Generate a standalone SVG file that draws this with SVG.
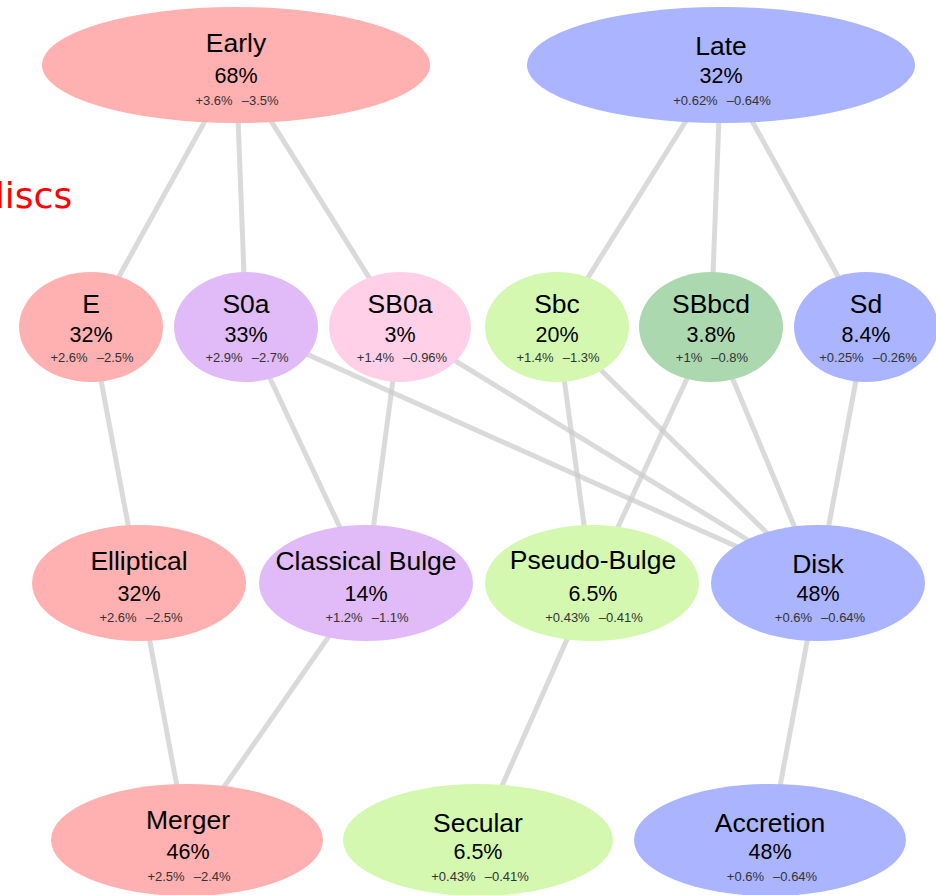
<svg xmlns="http://www.w3.org/2000/svg" width="936" height="895" viewBox="0 0 936 895">
  <style>
    .edge { stroke: #cacaca; stroke-opacity: 0.7; stroke-width: 5; fill: none; }
    .name { font-family: "Liberation Sans", Arial, Helvetica, sans-serif; font-size: 26.5px; fill: #000; text-anchor: middle; }
    .pct { font-family: "Liberation Sans", Arial, Helvetica, sans-serif; font-size: 21.5px; fill: #000; text-anchor: middle; }
    .err { font-family: "Liberation Sans", Arial, Helvetica, sans-serif; font-size: 13px; fill: #333; text-anchor: middle; }
    .red { fill: #ffb0b0; }
    .blue { fill: #aab4ff; }
    .lilac { fill: #e0bbf8; }
    .pink { fill: #ffd0e8; }
    .lime { fill: #d4f8b0; }
    .green { fill: #acd8b0; }
  </style>
  <rect width="936" height="895" fill="#fff"/>

  <!-- side caption, partly outside the frame -->
  <text x="-18" y="208" font-family="'DejaVu Sans', 'Open Sans', sans-serif" font-size="36" fill="#ff0000">discs</text>

  <!-- connectors, centre to centre, beneath the nodes -->
  <g id="edges">
    <line class="edge" x1="236" y1="65" x2="91" y2="327"/>
    <line class="edge" x1="236" y1="65" x2="246" y2="327"/>
    <line class="edge" x1="236" y1="65" x2="400" y2="327"/>
    <line class="edge" x1="721" y1="65" x2="557" y2="327"/>
    <line class="edge" x1="721" y1="65" x2="711" y2="327"/>
    <line class="edge" x1="721" y1="65" x2="866" y2="327"/>
    <line class="edge" x1="91" y1="327" x2="139" y2="583"/>
    <line class="edge" x1="246" y1="327" x2="366" y2="583"/>
    <line class="edge" x1="400" y1="327" x2="366" y2="583"/>
    <line class="edge" x1="246" y1="327" x2="818" y2="583"/>
    <line class="edge" x1="400" y1="327" x2="818" y2="583"/>
    <line class="edge" x1="557" y1="327" x2="592" y2="583"/>
    <line class="edge" x1="557" y1="327" x2="818" y2="583"/>
    <line class="edge" x1="711" y1="327" x2="592" y2="583"/>
    <line class="edge" x1="711" y1="327" x2="818" y2="583"/>
    <line class="edge" x1="866" y1="327" x2="818" y2="583"/>
    <line class="edge" x1="139" y1="583" x2="187" y2="840"/>
    <line class="edge" x1="366" y1="583" x2="187" y2="840"/>
    <line class="edge" x1="592" y1="583" x2="478" y2="840"/>
    <line class="edge" x1="818" y1="583" x2="770" y2="840"/>
  </g>

  <!-- top row -->
  <g id="early">
    <ellipse class="red" cx="236" cy="65" rx="194" ry="58"/>
    <text class="name" x="236" y="52">Early</text>
    <text class="pct" x="236" y="83">68%</text>
    <text class="err" x="237" y="104.5">+3.6%<tspan dx="9">–3.5%</tspan></text>
  </g>
  <g id="late">
    <ellipse class="blue" cx="721" cy="65" rx="194" ry="58"/>
    <text class="name" x="721" y="55">Late</text>
    <text class="pct" x="721" y="83">32%</text>
    <text class="err" x="722" y="104.5">+0.62%<tspan dx="9">–0.64%</tspan></text>
  </g>

  <!-- morphology row -->
  <g id="E">
    <ellipse class="red" cx="91" cy="327" rx="72" ry="55"/>
    <text class="name" x="91" y="313">E</text>
    <text class="pct" x="91" y="342">32%</text>
    <text class="err" x="92" y="362">+2.6%<tspan dx="9">–2.5%</tspan></text>
  </g>
  <g id="S0a">
    <ellipse class="lilac" cx="246" cy="327" rx="72" ry="55"/>
    <text class="name" x="246" y="313">S0a</text>
    <text class="pct" x="246" y="342">33%</text>
    <text class="err" x="247" y="362">+2.9%<tspan dx="9">–2.7%</tspan></text>
  </g>
  <g id="SB0a">
    <ellipse class="pink" cx="400" cy="327" rx="71" ry="55"/>
    <text class="name" x="400" y="313">SB0a</text>
    <text class="pct" x="400" y="342">3%</text>
    <text class="err" x="402" y="362">+1.4%<tspan dx="9">–0.96%</tspan></text>
  </g>
  <g id="Sbc">
    <ellipse class="lime" cx="557" cy="327" rx="72" ry="55"/>
    <text class="name" x="557" y="313">Sbc</text>
    <text class="pct" x="557" y="342">20%</text>
    <text class="err" x="558" y="362">+1.4%<tspan dx="9">–1.3%</tspan></text>
  </g>
  <g id="SBbcd">
    <ellipse class="green" cx="711" cy="327" rx="72" ry="55"/>
    <text class="name" x="711" y="313">SBbcd</text>
    <text class="pct" x="711" y="342">3.8%</text>
    <text class="err" x="712" y="362">+1%<tspan dx="9">–0.8%</tspan></text>
  </g>
  <g id="Sd">
    <ellipse class="blue" cx="866" cy="327" rx="72" ry="55"/>
    <text class="name" x="866" y="313">Sd</text>
    <text class="pct" x="866" y="342">8.4%</text>
    <text class="err" x="868" y="362">+0.25%<tspan dx="9">–0.26%</tspan></text>
  </g>

  <!-- component row -->
  <g id="Elliptical">
    <ellipse class="red" cx="139" cy="583" rx="107" ry="58"/>
    <text class="name" x="139" y="570">Elliptical</text>
    <text class="pct" x="139" y="601">32%</text>
    <text class="err" x="141" y="621.5">+2.6%<tspan dx="9">–2.5%</tspan></text>
  </g>
  <g id="ClassicalBulge">
    <ellipse class="lilac" cx="366" cy="583" rx="107" ry="58"/>
    <text class="name" x="366" y="570">Classical Bulge</text>
    <text class="pct" x="366" y="601">14%</text>
    <text class="err" x="367" y="621.5">+1.2%<tspan dx="9">–1.1%</tspan></text>
  </g>
  <g id="PseudoBulge">
    <ellipse class="lime" cx="592" cy="583" rx="107" ry="58"/>
    <text class="name" x="593" y="569">Pseudo-Bulge</text>
    <text class="pct" x="593" y="601">6.5%</text>
    <text class="err" x="594" y="621.5">+0.43%<tspan dx="9">–0.41%</tspan></text>
  </g>
  <g id="Disk">
    <ellipse class="blue" cx="818" cy="583" rx="107" ry="58"/>
    <text class="name" x="818" y="573">Disk</text>
    <text class="pct" x="818" y="601">48%</text>
    <text class="err" x="820" y="621.5">+0.6%<tspan dx="9">–0.64%</tspan></text>
  </g>

  <!-- formation channel row -->
  <g id="Merger">
    <ellipse class="red" cx="187" cy="840" rx="136" ry="56"/>
    <text class="name" x="188" y="829">Merger</text>
    <text class="pct" x="188" y="859">46%</text>
    <text class="err" x="189" y="881">+2.5%<tspan dx="9">–2.4%</tspan></text>
  </g>
  <g id="Secular">
    <ellipse class="lime" cx="478" cy="840" rx="135" ry="56"/>
    <text class="name" x="478" y="832">Secular</text>
    <text class="pct" x="478" y="859">6.5%</text>
    <text class="err" x="480" y="881">+0.43%<tspan dx="9">–0.41%</tspan></text>
  </g>
  <g id="Accretion">
    <ellipse class="blue" cx="770" cy="840" rx="136" ry="56"/>
    <text class="name" x="770" y="832">Accretion</text>
    <text class="pct" x="770" y="859">48%</text>
    <text class="err" x="772" y="881">+0.6%<tspan dx="9">–0.64%</tspan></text>
  </g>
</svg>
